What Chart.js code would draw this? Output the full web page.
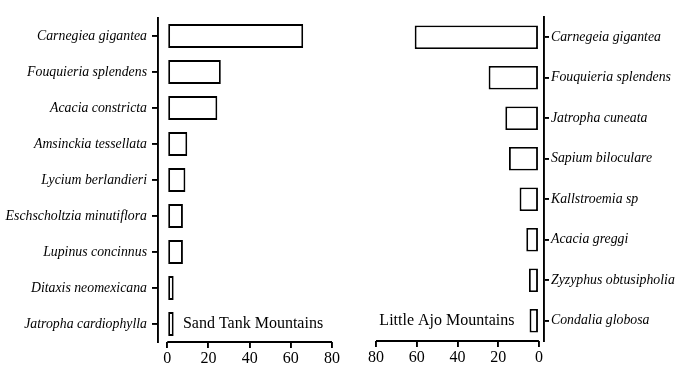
<!DOCTYPE html>
<html><head><meta charset="utf-8">
<script src="https://cdn.jsdelivr.net/npm/chart.js@4"></script>
<style>
html,body{margin:0;padding:0;background:#fff;width:678px;height:382px;overflow:hidden}
#l{position:absolute;left:0;top:0}
#r{position:absolute;left:345px;top:0}
</style></head><body>
<canvas id="l" width="342" height="382" style="width:342px;height:382px"></canvas>
<canvas id="r" width="333" height="382" style="width:333px;height:382px"></canvas>
<script>
const sandTankSpecies = ['Carnegiea gigantea','Fouquieria splendens','Acacia constricta','Amsinckia tessellata','Lycium berlandieri','Eschscholtzia minutiflora','Lupinus concinnus','Ditaxis neomexicana','Jatropha cardiophylla'];
const sandTankValues = [66, 26, 24.3, 9.7, 8.8, 7.6, 7.6, 3.1, 3.1];
const littleAjoSpecies = ['Carnegeia gigantea','Fouquieria splendens','Jatropha cuneata','Sapium biloculare','Kallstroemia sp','Acacia greggi','Zyzyphus obtusipholia','Condalia globosa'];
const littleAjoValues = [61, 24.7, 16.5, 14.7, 9.5, 6.2, 4.9, 4.6];
const xTickValues = [0, 20, 40, 60, 80];
const sandTankTitle = 'Sand Tank Mountains';
const littleAjoTitle = 'Little Ajo Mountains';

const BLACK = '#000';
const LW = 1.9;
const SERIF = '"Liberation Serif","Times New Roman",serif';

function panelPlugin(title, anchorValue, align){
  return {id:'panel', afterDraw(chart){
    const ctx = chart.ctx, x = chart.scales.x, y = chart.scales.y, b = chart.chartArea.bottom;
    ctx.save();
    ctx.strokeStyle = BLACK; ctx.lineWidth = LW;
    ctx.beginPath();
    ctx.moveTo(x.getPixelForValue(xTickValues[0]), b);
    ctx.lineTo(x.getPixelForValue(xTickValues[xTickValues.length-1]), b);
    ctx.stroke();
    ctx.font = '16px ' + SERIF; ctx.fillStyle = BLACK;
    ctx.textAlign = align; ctx.textBaseline = 'middle';
    ctx.fillText(title, x.getPixelForValue(anchorValue), y.getPixelForValue(y.ticks.length-1));
    ctx.restore();
  }};
}

function makeChart(id, labels, values, opts){
  return new Chart(document.getElementById(id), {
    type: 'bar',
    data: {labels: labels, datasets: [{data: values, backgroundColor: '#fff', borderColor: BLACK,
      borderWidth: LW, borderSkipped: false, categoryPercentage: 1, barPercentage: opts.barPct}]},
    options: {
      indexAxis: 'y', responsive: false, devicePixelRatio: 1, animation: false,
      layout: {padding: opts.padding},
      plugins: {legend: {display: false}, tooltip: {enabled: false}},
      scales: {
        x: {type: 'linear', min: opts.xMin, max: 80, reverse: opts.reverse,
          afterBuildTicks(s){ s.ticks = xTickValues.map(v => ({value: v})); },
          afterFit(s){ s.height = opts.xHeight; },
          grid: {drawOnChartArea: false, drawTicks: true, tickLength: 6, color: BLACK, lineWidth: LW},
          border: {display: false},
          ticks: {font: {family: SERIF, size: 16}, color: BLACK, padding: 1, maxRotation: 0}},
        y: {position: opts.yPos, offset: true,
          afterFit(s){ s.width = opts.yWidth; },
          grid: {drawOnChartArea: false, drawTicks: true, tickLength: opts.tickLen, color: BLACK, lineWidth: LW, offset: false},
          border: {display: true, color: BLACK, width: LW},
          ticks: {font: {family: SERIF, size: 13.8, style: 'italic'}, color: BLACK, padding: opts.tickPad, autoSkip: false}}
      }
    },
    plugins: [panelPlugin(opts.title, opts.titleAt, opts.titleAlign)]
  });
}

makeChart('l', sandTankSpecies, sandTankValues, {
  barPct: 0.66, padding: {left: 0, top: 18, right: 10, bottom: 0}, xMin: -4.5, reverse: false,
  xHeight: 40, yPos: 'left', yWidth: 158, tickLen: 6, tickPad: 5,
  title: sandTankTitle, titleAt: 7.6, titleAlign: 'left'});

makeChart('r', littleAjoSpecies, littleAjoValues, {
  barPct: 0.585, padding: {left: 31, top: 17, right: 0, bottom: 0}, xMin: -2.5, reverse: true,
  xHeight: 41, yPos: 'right', yWidth: 134, tickLen: 5, tickPad: 2,
  title: littleAjoTitle, titleAt: 12, titleAlign: 'right'});
</script>
</body></html>
